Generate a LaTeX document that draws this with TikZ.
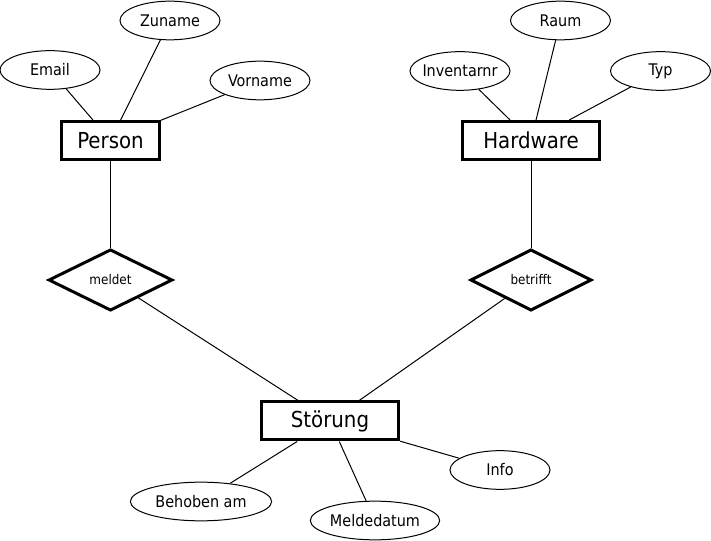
\documentclass[tikz,border=0pt]{standalone}
\usepackage{fontspec}
\setmainfont{DejaVu Sans Condensed}
\usetikzlibrary{shapes.geometric}

\begin{document}
\begin{tikzpicture}[x=0.75pt, y=-0.75pt,
		entity/.style={draw, rectangle, line width=2.25pt, inner sep=0pt, minimum width=73pt, minimum height=28.5pt, font=\fontsize{16.5}{19}\selectfont},
		attrib/.style={draw, ellipse, line width=0.75pt, inner xsep=-3pt, inner ysep=0pt, minimum width=75pt, minimum height=29pt, font=\fontsize{12}{14}\selectfont},
		relation/.style={draw, diamond, aspect=2, line width=2.25pt, inner sep=0pt, minimum width=93pt, minimum height=46pt, font=\fontsize{10}{12}\selectfont},
		link/.style={line width=0.75pt}]
			\useasboundingbox (0, 0) rectangle (711, 541);
			\node[entity] (Person)at(110.5, 140.5) {Person};
			\node[entity, minimum width=103pt] (Hardware)at(531, 140.5) {Hardware};
			\node[entity, minimum width=103pt] (Stoerung)at(330, 421) {Störung};
			\node[relation] (meldet)at(110.5, 280) {meldet};
			\node[relation, minimum width=91pt] (betrifft)at(531, 280) {betrifft};
			\node[attrib] (Email)at(50, 70) {Email};
			\node[attrib] (Zuname)at(170, 20.5) {Zuname};
			\node[attrib] (Vorname)at(260, 80.5) {Vorname};
			\node[attrib] (Inventarnr)at(460, 71) {Inventarnr};
			\node[attrib] (Raum)at(560.5, 20.5) {Raum};
			\node[attrib] (Typ)at(660.5, 71) {Typ};
			\node[attrib, minimum width=106pt] (Behoben)at(201, 501.5) {Behoben am};
			\node[attrib, minimum width=97pt] (Meldedatum)at(375, 520.5) {Meldedatum};
			\node[attrib] (Info)at(500, 470) {Info};
			\draw[link] (Person) -- (Email);
			\draw[link] (Person) -- (Zuname);
			\draw[link] (Person) -- (Vorname);
			\draw[link] (Hardware) -- (Inventarnr);
			\draw[link] (Hardware) -- (Raum);
			\draw[link] (Hardware) -- (Typ);
			\draw[link] (Person) -- (meldet);
			\draw[link] (Hardware) -- (betrifft);
			\draw[link] (meldet) -- (Stoerung);
			\draw[link] (betrifft) -- (Stoerung);
			\draw[link] (Stoerung) -- (Behoben);
			\draw[link] (Stoerung) -- (Meldedatum);
			\draw[link] (Stoerung) -- (Info);
		\end{tikzpicture}
\end{document}
